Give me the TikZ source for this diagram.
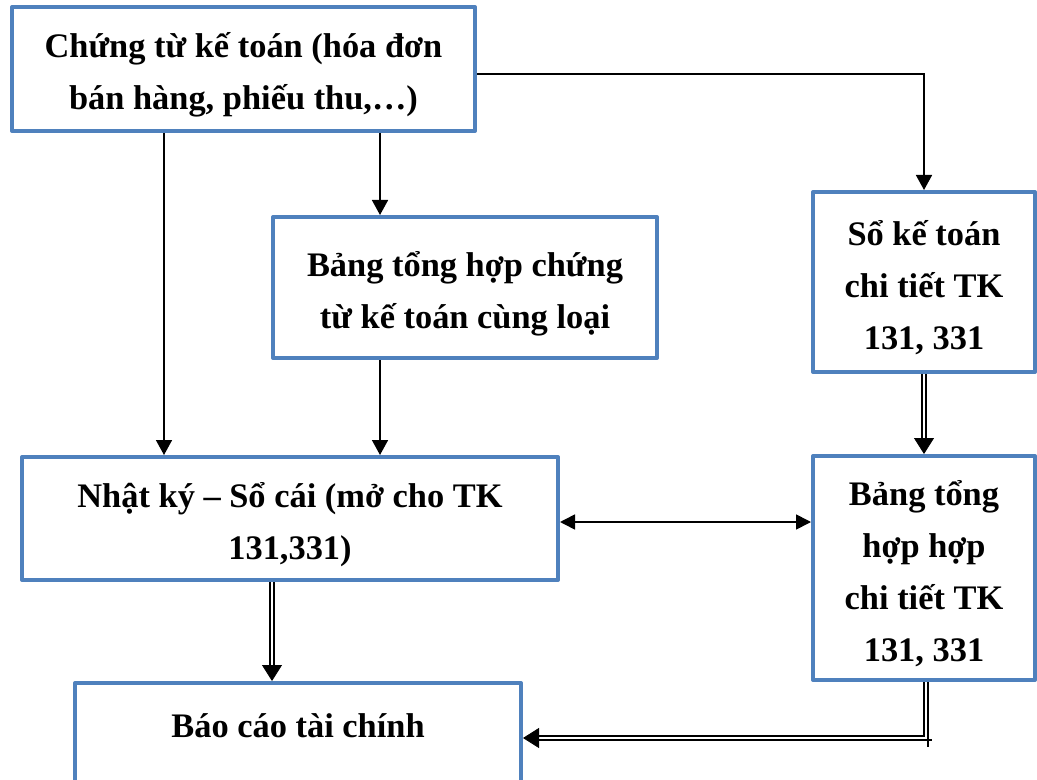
\documentclass[tikz,border=0pt]{standalone}
\usepackage{fontspec}
\setmainfont{Liberation Serif}
\usetikzlibrary{arrows.meta}
\definecolor{boxblue}{RGB}{79,129,189}
\begin{document}
\begin{tikzpicture}[x=0.5pt,y=-0.5pt,
  box/.style={draw=boxblue, line width=2pt, line join=round, fill=white,
    inner sep=0pt},
  boxtext/.style={align=center, inner sep=0pt,
    font=\fontsize{17.2}{26}\selectfont\bfseries},
  link/.style={line width=0.8pt, -{Triangle[length=7.5pt,width=8pt]}},
  twoway/.style={line width=0.8pt,
    {Triangle[length=7.5pt,width=7.5pt]}-{Triangle[length=7.5pt,width=7.5pt]}},
  dbl/.style={double, double distance=1.3pt, line width=0.9pt, shorten >=6pt},
  dbltip/.style={line width=0.4pt, -{Triangle[length=8pt,width=10pt]}}]

\fill[white] (0,0) rectangle (1037,780);
\useasboundingbox (0,0) rectangle (1037,780);

% boxes
\node[box, minimum width=231.5pt, minimum height=62pt] (A) at (243.5,69) {};
\node[box, minimum width=192pt, minimum height=70.5pt] (B) at (465,287.5) {};
\node[box, minimum width=111pt, minimum height=90pt] (C) at (924,282) {};
\node[box, minimum width=268pt, minimum height=61.5pt] (D) at (290,518.5) {};
\node[box, minimum width=111pt, minimum height=112pt] (E) at (924,568) {};
\node[box, minimum width=223pt, minimum height=60pt, anchor=north] (F)
  at (298,681) {};

% box texts
\node[boxtext] (At) at ([yshift=-3pt]A.center)
  {Chứng từ kế toán (hóa đơn\\bán hàng, phiếu thu,…)};
\node[boxtext] (Bt) at ([yshift=-3pt]B.center)
  {Bảng tổng hợp chứng\\từ kế toán cùng loại};
\node[boxtext] (Ct) at ([yshift=-3pt]C.center)
  {Sổ kế toán\\chi tiết TK\\131, 331};
\node[boxtext] (Dt) at ([yshift=-3pt]D.center)
  {Nhật ký – Sổ cái (mở cho TK\\131,331)};
\node[boxtext] (Et) at ([yshift=-3pt]E.center)
  {Bảng tổng\\hợp hợp\\chi tiết TK\\131, 331};
\node[boxtext, anchor=base] (Ft) at ([yshift=-28pt]F.north)
  {Báo cáo tài chính};

% routing helpers
\coordinate (xa) at (164,0);
\coordinate (xb) at (380,0);
\coordinate (yac) at (0,74);
\coordinate (yde) at (0,522);
\coordinate (xdf) at (272,0);
\coordinate (xef) at (926,0);
\coordinate (yef) at (0,738);

% single connectors
\draw[link] (A.south -| xa) -- (D.north -| xa);
\draw[link] (A.south -| xb) -- (B.north -| xb);
\draw[link] (B.south -| xb) -- (D.north -| xb);
\draw[link] (A.east |- yac) -| (C.north);
\draw[twoway] (D.east |- yde) -- (E.west |- yde);

% double connectors
\coordinate (cin) at (C.south |- E.north);
\draw[dbl] (C.south) -- (cin);
\draw[dbltip] ([yshift=1pt]cin) -- (cin);

\coordinate (dstart) at (D.south -| xdf);
\coordinate (dfin) at (F.north -| xdf);
\draw[dbl] (dstart) -- (dfin);
\draw[dbltip] ([yshift=1pt]dfin) -- (dfin);

\coordinate (estart) at (E.south -| xef);
\coordinate (corner) at (xef |- yef);
\coordinate (fin) at (F.east |- yef);
\draw[dbl] (estart) -- (corner) -- (fin);
\draw[dbltip] ([xshift=1pt]fin) -- (fin);
\draw[line width=0.7pt] ([shift={(2,2)}]corner) -- ++(0,7)
  ([shift={(2,2)}]corner) -- ++(4,0);
\end{tikzpicture}
\end{document}
